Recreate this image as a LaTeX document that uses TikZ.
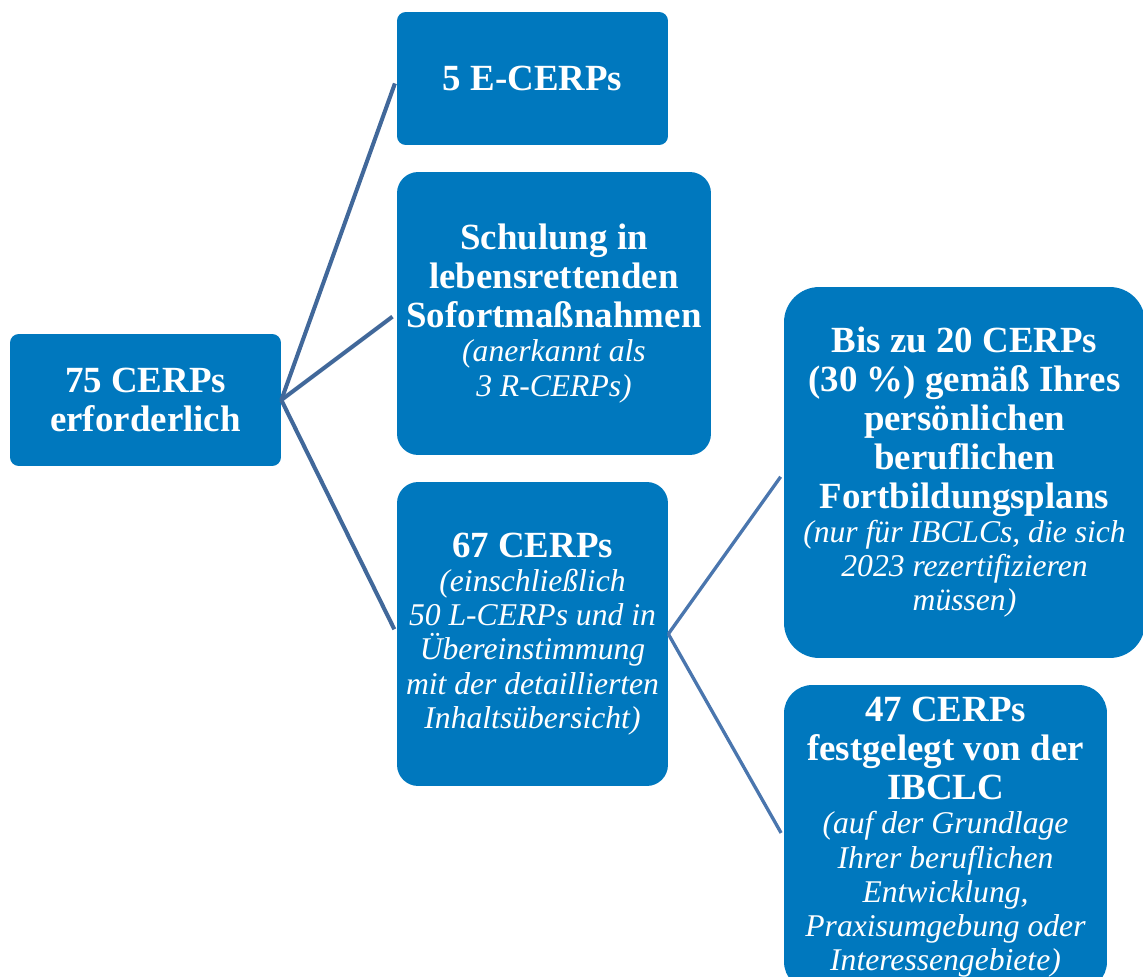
\documentclass[tikz,border=0pt]{standalone}
\usepackage{fontspec}
\setmainfont{Liberation Serif}
\definecolor{cerpblue}{RGB}{0,120,190}
\definecolor{linkdark}{RGB}{65,104,154}
\definecolor{linklight}{RGB}{74,118,174}
\newcommand{\hdfont}{\fontsize{21}{22.1}\selectfont\bfseries}
\newcommand{\subfont}{\fontsize{18}{19.3}\selectfont\mdseries\itshape}
\newcommand{\nl}{\\[-2.6pt]}
\tikzset{
  cerpbox/.style={fill=cerpblue, text=white, align=center, inner sep=0pt, font=\hdfont},
  link/.style={line width=2.3pt, shorten >=3pt}
}
\begin{document}
\begin{tikzpicture}
  [x=0.02cm, y=-0.02cm]
  \useasboundingbox (0,0) rectangle (1143,977);
  \clip (0,0) rectangle (1143,977);
  % boxes
  \node[cerpbox, rounded corners=5pt, minimum width=5.42cm, minimum height=2.64cm] (root) at (145.5,400)
    {75 CERPs\\erforderlich};
  \node[cerpbox, rounded corners=5pt, minimum width=5.42cm, minimum height=2.66cm] (ecerps) at (532.5,78.5)
    {5 E-CERPs};
  \node[cerpbox, rounded corners=12pt, minimum width=6.28cm, minimum height=5.66cm] (schulung) at (554,313.5)
    {Schulung in\\lebensrettenden\\Sofortmaßnahmen\nl
     \subfont (anerkannt als\nl\subfont 3 R-CERPs)};
  \node[cerpbox, rounded corners=12pt, minimum width=5.42cm, minimum height=6.08cm] (cerps67) at (532.5,634)
    {67 CERPs\nl\subfont (einschließlich\nl\subfont 50 L-CERPs und in\nl\subfont Übereinstimmung\nl
     \subfont mit der detaillierten\nl\subfont Inhaltsübersicht)};
  \node[cerpbox, rounded corners=20pt, minimum width=7.22cm, minimum height=7.42cm] (bis20) at (964.5,472.5)
    {Bis zu 20 CERPs\\(30 \%) gemäß Ihres\\persönlichen\\beruflichen\\
     Fortbildungsplans\nl\subfont (nur für IBCLCs, die sich\nl\subfont 2023 rezertifizieren\nl\subfont müssen)};
  \node[cerpbox, rounded corners=16pt, minimum width=6.46cm, minimum height=6.1cm] (cerps47) at (945.5,837.5)
    {47 CERPs\\festgelegt von der\\IBCLC\nl\subfont (auf der Grundlage\nl
     \subfont Ihrer beruflichen\nl\subfont Entwicklung,\nl\subfont Praxisumgebung oder\nl\subfont Interessengebiete)};
  % connectors
  \draw[link, linkdark] (root.east) -- (ecerps.west);
  \draw[link, linkdark] (root.east) -- (schulung.west);
  \draw[link, linkdark] (root.east) -- (cerps67.west);
  \draw[link, linklight, line width=1.9pt] (cerps67.east) -- (bis20.west);
  \draw[link, linklight, line width=1.9pt] (cerps67.east) -- (cerps47.west);
\end{tikzpicture}
\end{document}
